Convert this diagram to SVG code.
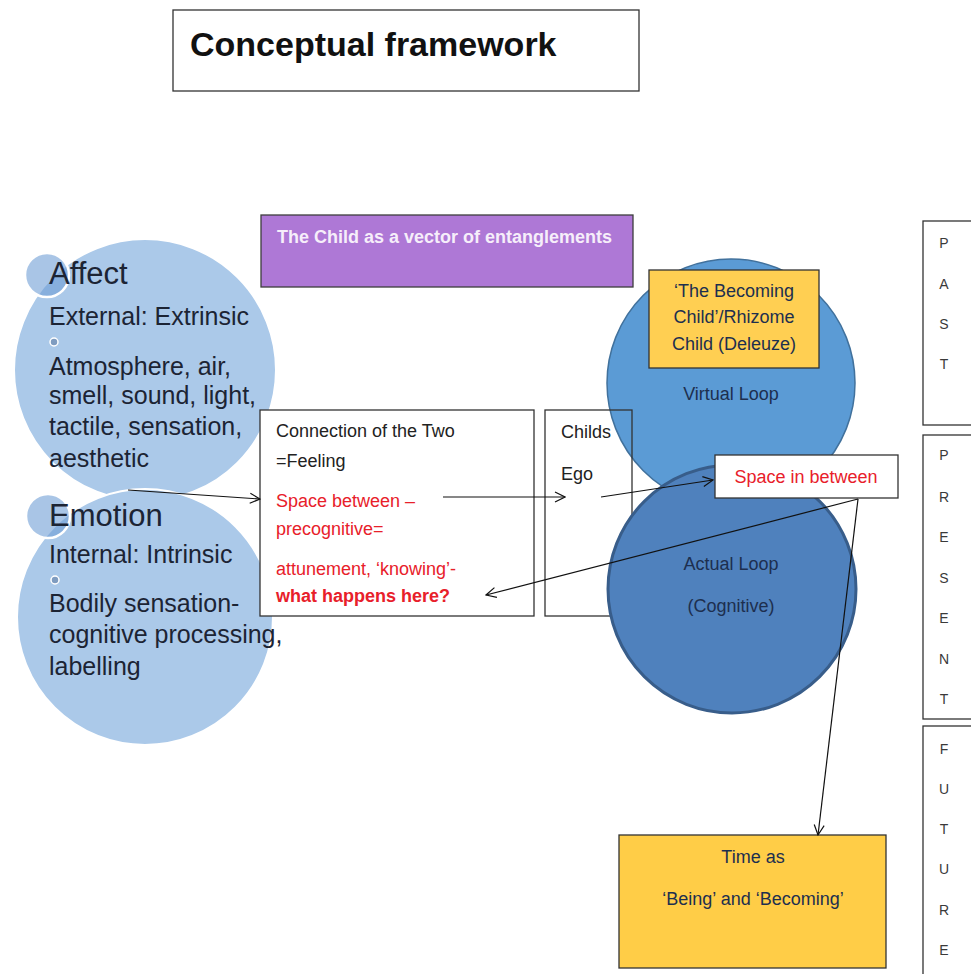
<svg xmlns="http://www.w3.org/2000/svg" width="971" height="974" viewBox="0 0 971 974">
<style>
  text { font-family: "Liberation Sans", Arial, sans-serif; }
  .box { fill: #ffffff; stroke: #333333; stroke-width: 1.3; }
  .big { fill: #abc9e9; stroke: #ffffff; stroke-width: 2; }
  .small { fill: #6f9fd6; fill-opacity: 0.6; stroke: #ffffff; stroke-width: 2.5; }
  .bullet { fill: #7f9cc0; stroke: #ffffff; stroke-width: 1.5; }
  .ctext { fill: #1c2434; font-size: 25px; }
  .head { fill: #1c2434; font-size: 31px; }
  .bt { font-size: 18px; fill: #222222; }
  .red { font-size: 18px; fill: #e8202a; }
  .dark { font-size: 18px; fill: #1d2f4f; text-anchor: middle; }
  .let { font-size: 14px; fill: #3a3a3a; text-anchor: middle; }
  .conn { stroke: #111111; stroke-width: 1.2; fill: none; marker-end: url(#arr); }
</style>
<defs>
  <marker id="arr" viewBox="0 0 12 12" refX="11" refY="6" markerWidth="12" markerHeight="12" markerUnits="userSpaceOnUse" orient="auto">
    <path d="M1,1 L11,6 L1,11" fill="none" stroke="#111111" stroke-width="1.2"/>
  </marker>
</defs>
<rect width="971" height="974" fill="#ffffff"/>

<g id="title">
  <rect class="box" x="173" y="10" width="466" height="81"/>
  <text x="190" y="56" font-size="34" font-weight="bold" fill="#111111">Conceptual framework</text>
</g>

<g id="purple">
  <rect x="261" y="215" width="372" height="72" fill="#ae78d6" stroke="#3d3d3d" stroke-width="1.3"/>
  <text x="277" y="243" font-size="18" font-weight="bold" fill="#f6eefa">The Child as a vector of entanglements</text>
</g>

<g id="affect">
  <circle class="big" cx="145" cy="370" r="131"/>
  <circle class="small" cx="47" cy="275" r="22"/>
  <circle class="bullet" cx="54" cy="342" r="4"/>
  <text class="head" x="49" y="284">Affect</text>
  <text class="ctext" x="49" y="325">External: Extrinsic</text>
  <text class="ctext" x="49" y="375">Atmosphere, air,</text>
  <text class="ctext" x="49" y="404">smell, sound, light,</text>
  <text class="ctext" x="49" y="435">tactile, sensation,</text>
  <text class="ctext" x="49" y="467">aesthetic</text>
</g>

<g id="emotion">
  <circle class="big" cx="145" cy="617" r="128"/>
  <circle class="small" cx="48" cy="516" r="22"/>
  <circle class="bullet" cx="55" cy="580" r="4"/>
  <text class="head" x="49" y="526">Emotion</text>
  <text class="ctext" x="49" y="563">Internal: Intrinsic</text>
  <text class="ctext" x="49" y="612">Bodily sensation-</text>
  <text class="ctext" x="49" y="643">cognitive processing,</text>
  <text class="ctext" x="49" y="675">labelling</text>
</g>

<g id="connection">
  <rect class="box" x="260" y="410" width="274" height="206"/>
  <text class="bt" x="276" y="437">Connection of the Two</text>
  <text class="bt" x="276" y="467">=Feeling</text>
  <text class="red" x="276" y="507">Space between –</text>
  <text class="red" x="276" y="535">precognitive=</text>
  <text class="red" x="276" y="575">attunement, ‘knowing’-</text>
  <text class="red" x="276" y="602" font-weight="bold">what happens here?</text>
</g>

<g id="virtual">
  <circle cx="731" cy="383" r="124" fill="#5b9bd5" stroke="#41719c" stroke-width="1.5"/>
  <text class="dark" x="731" y="400">Virtual Loop</text>
</g>

<g id="childs">
  <rect x="545" y="410" width="87" height="206" fill="none" stroke="#333333" stroke-width="1.3"/>
  <text class="bt" x="561" y="438">Childs</text>
  <text class="bt" x="561" y="480">Ego</text>
</g>

<g id="actual">
  <circle cx="732" cy="589" r="124" fill="#4f81bd" stroke="#385d8a" stroke-width="3"/>
  <text class="dark" x="731" y="570">Actual Loop</text>
  <text class="dark" x="731" y="612">(Cognitive)</text>
</g>

<g id="becoming">
  <rect x="649" y="270" width="170" height="98" fill="#ffcf52" stroke="#333333" stroke-width="1.3"/>
  <text class="dark" x="734" y="297" fill="#3a2e10">‘The Becoming</text>
  <text class="dark" x="734" y="323">Child’/Rhizome</text>
  <text class="dark" x="734" y="350">Child (Deleuze)</text>
</g>

<g id="space">
  <rect class="box" x="715" y="455" width="183" height="43"/>
  <text class="red" x="806" y="483" text-anchor="middle">Space in between</text>
</g>

<g id="time">
  <rect x="619" y="835" width="267" height="133" fill="#ffcd47" stroke="#333333" stroke-width="1.3"/>
  <text class="dark" x="753" y="863" fill="#222222">Time as</text>
  <text class="dark" x="753" y="905" fill="#222222">‘Being’ and ‘Becoming’</text>
</g>

<g id="past">
  <rect class="box" x="923" y="221" width="60" height="204"/>
  <text class="let" x="944" y="248">P</text>
  <text class="let" x="944" y="289">A</text>
  <text class="let" x="944" y="329">S</text>
  <text class="let" x="944" y="369">T</text>
</g>

<g id="present">
  <rect class="box" x="923" y="435" width="60" height="284"/>
  <text class="let" x="944" y="460">P</text>
  <text class="let" x="944" y="502">R</text>
  <text class="let" x="944" y="542">E</text>
  <text class="let" x="944" y="583">S</text>
  <text class="let" x="944" y="623">E</text>
  <text class="let" x="944" y="664">N</text>
  <text class="let" x="944" y="704">T</text>
</g>

<g id="future">
  <rect class="box" x="923" y="726" width="60" height="260"/>
  <text class="let" x="944" y="754">F</text>
  <text class="let" x="944" y="794">U</text>
  <text class="let" x="944" y="834">T</text>
  <text class="let" x="944" y="874">U</text>
  <text class="let" x="944" y="915">R</text>
  <text class="let" x="944" y="955">E</text>
</g>

<g id="connectors">
  <line class="conn" x1="128" y1="490" x2="260" y2="499"/>
  <line class="conn" x1="443" y1="497" x2="565" y2="497"/>
  <line class="conn" x1="601" y1="497" x2="713" y2="480"/>
  <line class="conn" x1="858" y1="499" x2="486" y2="595"/>
  <line class="conn" x1="858" y1="499" x2="818" y2="835"/>
</g>
</svg>
